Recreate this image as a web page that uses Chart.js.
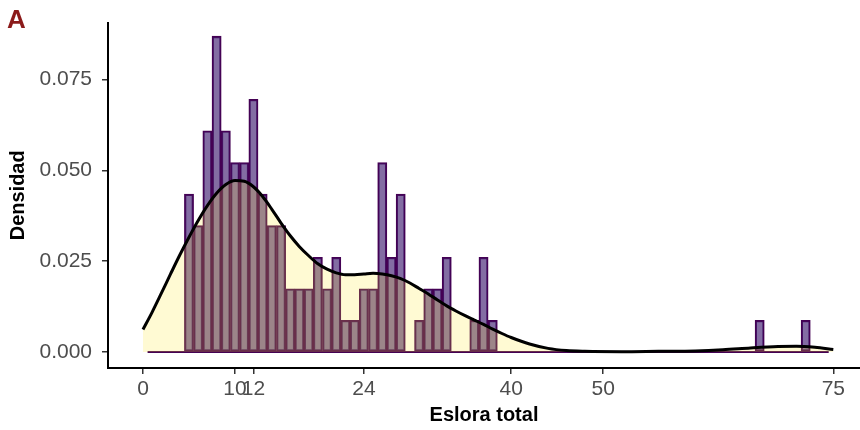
<!DOCTYPE html>
<html>
<head>
<meta charset="utf-8">
<script src="https://cdn.jsdelivr.net/npm/chart.js@4/dist/chart.umd.min.js"></script>
<style>
  html, body { margin: 0; padding: 0; background: #ffffff; }
  #wrap { position: relative; width: 860px; height: 430px; }
  #tag { position: absolute; left: 7px; top: 4px; font: bold 26px 'Liberation Sans', Arial, sans-serif; color: #8b1a1a; }
</style>
</head>
<body>
<div id="wrap">
  <canvas id="c" width="860" height="430"></canvas>
  <div id="tag">A</div>
</div>
<script>
// Histogram: counts per 1-unit bin, bins centred on 1..74
const firstBin = 1;
const binWidth = 1;
const counts = [
  0, 0, 0, 0, 5, 4, 7, 10, 7, 6,      // 1-10
  6, 8, 5, 4, 4, 2, 2, 2, 3, 2,       // 11-20
  3, 1, 1, 2, 2, 6, 3, 5, 0, 1,       // 21-30
  2, 2, 3, 0, 0, 1, 3, 1, 0, 0,       // 31-40
  0, 0, 0, 0, 0, 0, 0, 0, 0, 0,       // 41-50
  0, 0, 0, 0, 0, 0, 0, 0, 0, 0,       // 51-60
  0, 0, 0, 0, 0, 0, 1, 0, 0, 0,       // 61-70
  0, 1, 0, 0                          // 71-74
];

// Kernel density estimate of total length
const densityX = [0, 1, 2, 3, 4, 5, 6, 7, 8, 9, 10, 11, 12, 13, 14, 15, 16, 17, 18, 19, 20,
  21, 22, 23, 24, 25, 26, 27, 28, 29, 30, 31, 32, 33, 34, 35, 36, 37, 38, 39, 40,
  42, 44, 46, 48, 52, 56, 60, 63, 66, 69, 71, 73, 75];
const densityY = [0.0062, 0.0110, 0.0162, 0.0215, 0.0267, 0.0316, 0.0362, 0.0403, 0.0437, 0.0461, 0.0472,
  0.0470, 0.0455, 0.0428, 0.0393, 0.0355, 0.0320, 0.0290, 0.0265, 0.0243, 0.0228,
  0.0218, 0.0213, 0.0213, 0.0215, 0.0217, 0.0215, 0.0210, 0.0202, 0.0190, 0.0175,
  0.0160, 0.0143, 0.0127, 0.0113, 0.0100, 0.0088, 0.0076, 0.0063, 0.0051, 0.0040,
  0.0022, 0.0010, 0.0004, 0.0002, 0.0001, 0.0002, 0.0003, 0.0006, 0.0011, 0.0015, 0.0016, 0.0013, 0.0007];

const xTicks = [0, 10, 12, 24, 40, 50, 75];
const yTicks = [0, 0.025, 0.05, 0.075];

const nObs = counts.reduce((a, b) => a + b, 0);
const binCenters = counts.map((_, i) => firstBin + i * binWidth);
const histData = counts.map((c, i) => ({ x: binCenters[i], y: c / (nObs * binWidth) }));
const baseData = [
  { x: binCenters[0] - binWidth / 2, y: 0 },
  { x: binCenters[binCenters.length - 1] + binWidth / 2, y: 0 }
];
const densData = densityX.map((x, i) => ({ x: x, y: densityY[i] }));

Chart.defaults.font.family = "'Liberation Sans', Arial, sans-serif";

new Chart(document.getElementById('c'), {
  type: 'bar',
  data: {
    datasets: [
      {
        type: 'line',
        data: densData,
        order: 0,
        borderColor: '#000000',
        borderWidth: 3,
        backgroundColor: 'rgba(253,231,37,0.2)',
        fill: 'origin',
        pointRadius: 0,
        cubicInterpolationMode: 'monotone'
      },
      {
        type: 'line',
        data: baseData,
        order: 1,
        borderColor: '#440154',
        borderWidth: 2,
        pointRadius: 0,
        fill: false
      },
      {
        type: 'bar',
        data: histData,
        order: 2,
        backgroundColor: 'rgba(72,40,120,0.68)',
        borderColor: '#440154',
        borderWidth: 1.6,
        borderSkipped: false,
        barPercentage: 1,
        categoryPercentage: 1,
        grouped: false
      }
    ]
  },
  options: {
    responsive: false,
    animation: false,
    events: [],
    layout: { padding: { top: 15, right: 0, left: 0, bottom: 0 } },
    plugins: { legend: { display: false }, tooltip: { enabled: false } },
    scales: {
      x: {
        type: 'linear',
        min: -3.8,
        max: 77.9,
        offset: false,
        afterFit: (s) => { s.height = 62; },
        afterBuildTicks: (s) => { s.ticks = xTicks.map(v => ({ value: v })); },
        ticks: {
          autoSkip: false,
          maxRotation: 0,
          minRotation: 0,
          color: '#4d4d4d',
          font: { size: 21 },
          padding: 3,
          callback: (v) => String(v)
        },
        grid: { display: true, offset: false, drawOnChartArea: false, drawTicks: true, tickLength: 6, color: '#333333', lineWidth: 1.5 },
        border: { display: true, color: '#000000', width: 2 },
        title: { display: true, text: 'Eslora total', color: '#000000', font: { size: 20, weight: 'bold' }, padding: { top: 0, bottom: 3 } }
      },
      y: {
        type: 'linear',
        min: -0.0044,
        max: 0.0907,
        afterFit: (s) => { s.width = 108; },
        afterBuildTicks: (s) => { s.ticks = yTicks.map(v => ({ value: v })); },
        ticks: {
          color: '#4d4d4d',
          font: { size: 21 },
          padding: 10,
          callback: (v) => Number(v).toFixed(3)
        },
        grid: { display: true, offset: false, drawOnChartArea: false, drawTicks: true, tickLength: 6, color: '#333333', lineWidth: 1.5 },
        border: { display: true, color: '#000000', width: 2 },
        title: { display: true, text: 'Densidad', color: '#000000', font: { size: 20, weight: 'bold' }, padding: { top: 6, bottom: 0 } }
      }
    }
  }
});
</script>
</body>
</html>
